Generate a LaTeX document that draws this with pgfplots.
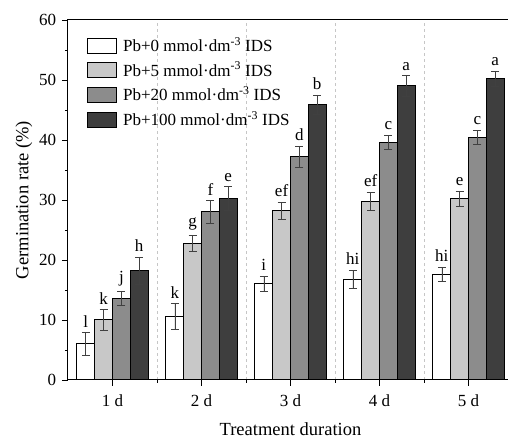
\documentclass[border=0pt]{standalone}
\usepackage{fontspec}
\setmainfont{Liberation Serif}
\usepackage{pgfplots}
\usepackage{pgfplotstable}
\pgfplotsset{compat=1.18}
\definecolor{cA}{RGB}{255,255,255}
\definecolor{cB}{RGB}{200,200,200}
\definecolor{cC}{RGB}{140,140,140}
\definecolor{cD}{RGB}{62,62,62}
\pgfplotstableread{
x y err lab
1 6.0 1.9 l
2 10.6 2.1 k
3 16.0 1.3 i
4 16.8 1.5 hi
5 17.6 1.2 hi
}\tA
\pgfplotstableread{
x y err lab
1 10.0 1.7 k
2 22.8 1.3 g
3 28.2 1.4 ef
4 29.8 1.5 ef
5 30.2 1.3 e
}\tB
\pgfplotstableread{
x y err lab
1 13.6 1.2 j
2 28.0 1.9 f
3 37.2 1.7 d
4 39.6 1.2 c
5 40.4 1.2 c
}\tC
\pgfplotstableread{
x y err lab
1 18.2 2.3 h
2 30.2 2.0 e
3 45.9 1.6 b
4 49.0 1.7 a
5 50.2 1.3 a
}\tD
\pgfplotsset{
  barstyle/.style={draw=black, line width=1pt,
    error bars/y dir=both, error bars/y explicit,
    error bars/error bar style={black!75, line width=0.6pt},
    error bars/error mark options={rotate=90, black!75, mark size=4pt, line width=0.6pt}},
}
\begin{document}
\fontsize{17}{20}\selectfont
\begin{tikzpicture}
\begin{axis}[
  scale only axis,
  width=445pt, height=360pt,
  xmin=0.5, xmax=5.5, ymin=0, ymax=60,
  ybar, bar width=0.2,
  /pgf/number format/assume math mode=true,
  ytick={0,10,...,60},
  minor y tick num=1,
  xtick={1,2,3,4,5},
  xticklabels={1 d,2 d,3 d,4 d,5 d},
  xticklabel style={yshift=-3pt},
  minor xtick={1.5,2.5,3.5,4.5},
  xminorgrids=true,
  minor x grid style={gray!45, dashed, line width=0.5pt},
  xtick pos=bottom, ytick pos=left,
  tick align=outside,
  major tick length=6pt, minor tick length=3pt,
  tick style={black, line width=0.8pt},
  axis line style={black, line width=1pt},
  every axis x label/.style={at={(axis description cs:0.5,0)}, anchor=center, yshift=-49pt, font=\fontsize{18.5}{22}\selectfont},
  every axis y label/.style={at={(axis description cs:0,0.5)}, xshift=-44pt, rotate=90, anchor=center, font=\fontsize{18.5}{22}\selectfont},
  xlabel={Treatment duration},
  ylabel={Germination rate (\%)},
  legend image code/.code={\draw[#1] (0pt,-7.5pt) rectangle (29pt,7.5pt);},
  legend style={at={(axis description cs:0,1)}, anchor=north west, xshift=16pt, yshift=-12pt,
    draw=none, fill=none, row sep=2pt, nodes={inner sep=3pt}},
  legend cell align=left,
  point meta=explicit symbolic,
  nodes near coords,
  visualization depends on={\thisrow{err} \as \errv},
  every node near coord/.append style={anchor=south, inner sep=1pt, yshift=\errv*6pt+4pt, black},
]
\addplot[barstyle, fill=cA, bar shift=-0.3] table[x=x, y=y, y error=err, meta=lab]{\tA};
\addlegendentry{\hspace{3pt}Pb+0 mmol·dm\textsuperscript{-3} IDS}
\addplot[barstyle, fill=cB, bar shift=-0.1] table[x=x, y=y, y error=err, meta=lab]{\tB};
\addlegendentry{\hspace{3pt}Pb+5 mmol·dm\textsuperscript{-3} IDS}
\addplot[barstyle, fill=cC, bar shift=0.1] table[x=x, y=y, y error=err, meta=lab]{\tC};
\addlegendentry{\hspace{3pt}Pb+20 mmol·dm\textsuperscript{-3} IDS}
\addplot[barstyle, fill=cD, bar shift=0.3] table[x=x, y=y, y error=err, meta=lab]{\tD};
\addlegendentry{\hspace{3pt}Pb+100 mmol·dm\textsuperscript{-3} IDS}
\end{axis}
\pgfresetboundingbox
\path (-68pt,-58pt) rectangle (440pt,380pt);
\end{tikzpicture}
\end{document}
